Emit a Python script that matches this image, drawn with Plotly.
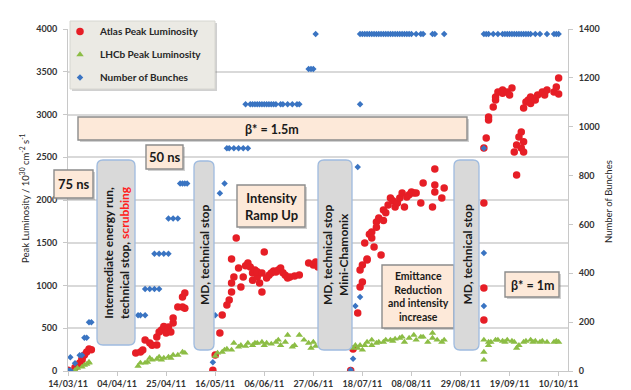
import plotly.graph_objects as go

# ---------------- data ----------------
atlas = [
    ("2011-03-14", 10), ("2011-03-17", 40), ("2011-03-18", 60), ("2011-03-19", 94), ("2011-03-20", 130),
    ("2011-03-20", 150), ("2011-03-21", 187), ("2011-03-22", 222), ("2011-03-23", 257), ("2011-03-24", 250),
    ("2011-04-12", 210), ("2011-04-14", 222), ("2011-04-15", 246), ("2011-04-16", 363), ("2011-04-18", 327),
    ("2011-04-19", 300), ("2011-04-21", 304), ("2011-04-21", 398), ("2011-04-22", 456), ("2011-04-23", 480),
    ("2011-04-24", 520), ("2011-04-25", 444), ("2011-04-26", 515), ("2011-04-27", 456), ("2011-04-28", 561),
    ("2011-04-28", 620), ("2011-04-30", 748), ("2011-05-02", 748), ("2011-05-03", 735), ("2011-05-02", 865),
    ("2011-05-03", 912),
    ("2011-05-15", 10), ("2011-05-16", 187), ("2011-05-18", 444), ("2011-05-19", 655), ("2011-05-21", 772),
    ("2011-05-22", 830), ("2011-05-23", 924), ("2011-05-23", 1030), ("2011-05-24", 1100), ("2011-05-23", 1310),
    ("2011-05-25", 1555), ("2011-05-26", 1205), ("2011-05-27", 982), ("2011-05-28", 1100), ("2011-05-29", 1230),
    ("2011-05-30", 1263), ("2011-05-31", 1216), ("2011-06-01", 1146), ("2011-06-01", 1060), ("2011-06-02", 1181),
    ("2011-06-03", 1100), ("2011-06-03", 1160), ("2011-06-04", 1030), ("2011-06-05", 924), ("2011-06-05", 1146),
    ("2011-06-06", 1392), ("2011-06-07", 1088), ("2011-06-08", 1120), ("2011-06-09", 1146), ("2011-06-10", 1170),
    ("2011-06-11", 1158), ("2011-06-12", 1181), ("2011-06-13", 1205), ("2011-06-14", 1150), ("2011-06-15", 1120),
    ("2011-06-16", 1088), ("2011-06-17", 1100), ("2011-06-19", 1110), ("2011-06-21", 1123), ("2011-06-25", 1263),
    ("2011-06-27", 1240), ("2011-06-28", 1275), ("2011-06-29", 1216),
    ("2011-07-13", 5), ("2011-07-14", 257), ("2011-07-16", 678), ("2011-07-17", 982), ("2011-07-18", 1041),
    ("2011-07-17", 1181), ("2011-07-18", 1240), ("2011-07-19", 1497), ("2011-07-20", 1298), ("2011-07-20", 1310),
    ("2011-07-21", 1600), ("2011-07-22", 1626), ("2011-07-22", 1555), ("2011-07-23", 1450), ("2011-07-24", 1742),
    ("2011-07-24", 1680), ("2011-07-25", 1790), ("2011-07-26", 1357), ("2011-07-27", 1760), ("2011-07-27", 1883),
    ("2011-07-28", 1850), ("2011-07-29", 1942), ("2011-07-30", 2023), ("2011-07-31", 1990), ("2011-08-01", 1918),
    ("2011-08-02", 1965), ("2011-08-03", 2023), ("2011-08-04", 2082), ("2011-08-05", 1918), ("2011-08-06", 2035),
    ("2011-08-07", 2060), ("2011-08-08", 2093), ("2011-08-09", 2082), ("2011-08-10", 2082), ("2011-08-12", 1965),
    ("2011-08-13", 2199), ("2011-08-17", 1918), ("2011-08-18", 2093), ("2011-08-18", 2175), ("2011-08-18", 2363),
    ("2011-08-21", 2023), ("2011-08-22", 2140),
    ("2011-09-08", 597), ("2011-09-08", 971), ("2011-09-08", 1965), ("2011-09-08", 2608), ("2011-09-09", 2725),
    ("2011-09-10", 2936), ("2011-09-10", 2971), ("2011-09-12", 3088), ("2011-09-13", 3170), ("2011-09-13", 3205),
    ("2011-09-14", 3263), ("2011-09-16", 3287), ("2011-09-16", 3250), ("2011-09-18", 3263), ("2011-09-19", 3228),
    ("2011-09-20", 3310), ("2011-09-21", 2561), ("2011-09-22", 2643), ("2011-09-22", 2292), ("2011-09-23", 2737),
    ("2011-09-24", 2795), ("2011-09-24", 2608), ("2011-09-25", 2680), ("2011-09-25", 2561), ("2011-09-25", 3076),
    ("2011-09-26", 3146), ("2011-09-27", 3170), ("2011-09-28", 3205), ("2011-09-28", 3130), ("2011-09-30", 3170),
    ("2011-10-01", 3228), ("2011-10-03", 3263), ("2011-10-04", 3228), ("2011-10-05", 3287), ("2011-10-08", 3263),
    ("2011-10-09", 3322), ("2011-10-10", 3427), ("2011-10-10", 3240),
]

lhcb = [
    ("2011-03-14", 0), ("2011-03-17", 10), ("2011-03-18", 35), ("2011-03-20", 47), ("2011-03-21", 70),
    ("2011-03-22", 80), ("2011-03-23", 94), ("2011-03-23", 105),
    ("2011-04-13", 58), ("2011-04-14", 94), ("2011-04-16", 94), ("2011-04-17", 105), ("2011-04-18", 152),
    ("2011-04-19", 129), ("2011-04-21", 140), ("2011-04-22", 164), ("2011-04-23", 129), ("2011-04-24", 152),
    ("2011-04-26", 164), ("2011-04-27", 152), ("2011-04-28", 187), ("2011-04-30", 187), ("2011-05-02", 222),
    ("2011-05-03", 211),
    ("2011-05-16", 175), ("2011-05-17", 211), ("2011-05-19", 222), ("2011-05-20", 246), ("2011-05-21", 257),
    ("2011-05-23", 246), ("2011-05-24", 327), ("2011-05-26", 281), ("2011-05-27", 300), ("2011-05-29", 290),
    ("2011-05-30", 327), ("2011-06-01", 300), ("2011-06-02", 327), ("2011-06-03", 327), ("2011-06-05", 339),
    ("2011-06-06", 300), ("2011-06-07", 327), ("2011-06-09", 316), ("2011-06-11", 339), ("2011-06-12", 363),
    ("2011-06-13", 300), ("2011-06-15", 339), ("2011-06-16", 421), ("2011-06-18", 281), ("2011-06-19", 300),
    ("2011-06-21", 421), ("2011-06-23", 363), ("2011-06-25", 327), ("2011-06-26", 269), ("2011-06-27", 339),
    ("2011-06-28", 290),
    ("2011-07-14", 269), ("2011-07-15", 300), ("2011-07-16", 269), ("2011-07-17", 300), ("2011-07-18", 246),
    ("2011-07-19", 300), ("2011-07-20", 339), ("2011-07-22", 363), ("2011-07-22", 300), ("2011-07-24", 327),
    ("2011-07-25", 339), ("2011-07-27", 339), ("2011-07-28", 363), ("2011-07-30", 363), ("2011-07-31", 350),
    ("2011-08-01", 375), ("2011-08-03", 386), ("2011-08-04", 398), ("2011-08-05", 339), ("2011-08-07", 386),
    ("2011-08-09", 421), ("2011-08-10", 363), ("2011-08-12", 398), ("2011-08-13", 398), ("2011-08-15", 339),
    ("2011-08-17", 386), ("2011-08-17", 444), ("2011-08-19", 363), ("2011-08-21", 339), ("2011-08-22", 363),
    ("2011-09-08", 129), ("2011-09-08", 222), ("2011-09-08", 363), ("2011-09-10", 339), ("2011-09-10", 300),
    ("2011-09-11", 339), ("2011-09-13", 363), ("2011-09-14", 363), ("2011-09-16", 350), ("2011-09-17", 339),
    ("2011-09-18", 363), ("2011-09-20", 350), ("2011-09-21", 339), ("2011-09-22", 269), ("2011-09-23", 300),
    ("2011-09-25", 339), ("2011-09-26", 350), ("2011-09-28", 363), ("2011-09-29", 339), ("2011-09-30", 350),
    ("2011-10-02", 339), ("2011-10-03", 350), ("2011-10-05", 339), ("2011-10-08", 339), ("2011-10-09", 350),
    ("2011-10-10", 339),
]

bunches = [
    ("2011-03-14", 2), ("2011-03-15", 2), ("2011-03-15", 56), ("2011-03-17", 32), ("2011-03-19", 64),
    ("2011-03-20", 64), ("2011-03-21", 136), ("2011-03-22", 136), ("2011-03-23", 200), ("2011-03-24", 200),
    ("2011-04-13", 228), ("2011-04-14", 228), ("2011-04-16", 228),
    ("2011-04-16", 336), ("2011-04-18", 336), ("2011-04-20", 336), ("2011-04-22", 336),
    ("2011-04-20", 480), ("2011-04-22", 480), ("2011-04-24", 480), ("2011-04-26", 480),
    ("2011-04-26", 624), ("2011-04-28", 624), ("2011-04-30", 624),
    ("2011-05-01", 768), ("2011-05-02", 768), ("2011-05-03", 768), ("2011-05-04", 768),
    ("2011-05-15", 36), ("2011-05-16", 228), ("2011-05-18", 728), ("2011-05-20", 768),
    ("2011-05-21", 912), ("2011-05-22", 912), ("2011-05-24", 912), ("2011-05-26", 912), ("2011-05-28", 912),
    ("2011-05-30", 912),
    ("2011-05-29", 1092), ("2011-05-31", 1092), ("2011-06-01", 1092), ("2011-06-02", 1092), ("2011-06-03", 1092),
    ("2011-06-04", 1092), ("2011-06-05", 1092), ("2011-06-06", 1092), ("2011-06-07", 1092), ("2011-06-08", 1092),
    ("2011-06-09", 1092), ("2011-06-10", 1092), ("2011-06-11", 1092), ("2011-06-13", 1092), ("2011-06-14", 1092),
    ("2011-06-16", 1092), ("2011-06-18", 1092), ("2011-06-20", 1092), ("2011-06-21", 1092),
    ("2011-06-25", 1236), ("2011-06-26", 1236), ("2011-06-27", 1236), ("2011-06-28", 1380),
    ("2011-07-13", 4), ("2011-07-14", 50), ("2011-07-15", 266), ("2011-07-17", 303), ("2011-07-16", 835),
    ("2011-07-17", 1092),
    ("2011-07-17", 1380), ("2011-07-18", 1380), ("2011-07-19", 1380), ("2011-07-20", 1380), ("2011-07-21", 1380),
    ("2011-07-22", 1380), ("2011-07-23", 1380), ("2011-07-24", 1380), ("2011-07-25", 1380), ("2011-07-26", 1380),
    ("2011-07-27", 1380), ("2011-07-28", 1380), ("2011-07-29", 1380), ("2011-07-30", 1380), ("2011-07-31", 1380),
    ("2011-08-01", 1380), ("2011-08-02", 1380), ("2011-08-03", 1380), ("2011-08-04", 1380), ("2011-08-05", 1380),
    ("2011-08-06", 1380), ("2011-08-07", 1380), ("2011-08-08", 1380), ("2011-08-10", 1380), ("2011-08-12", 1380),
    ("2011-08-13", 1380), ("2011-08-17", 1380), ("2011-08-18", 1380), ("2011-08-22", 1380),
    ("2011-09-08", 266), ("2011-09-08", 483), ("2011-09-08", 912),
    ("2011-09-08", 1380), ("2011-09-09", 1380), ("2011-09-10", 1380), ("2011-09-12", 1380), ("2011-09-14", 1380),
    ("2011-09-16", 1380), ("2011-09-17", 1380), ("2011-09-18", 1380), ("2011-09-19", 1380), ("2011-09-20", 1380),
    ("2011-09-21", 1380), ("2011-09-22", 1380), ("2011-09-23", 1380), ("2011-09-24", 1380), ("2011-09-25", 1380),
    ("2011-09-26", 1380), ("2011-09-27", 1380), ("2011-09-28", 1380), ("2011-09-30", 1380), ("2011-10-02", 1380),
    ("2011-10-05", 1380), ("2011-10-08", 1380), ("2011-10-09", 1380), ("2011-10-10", 1380),
]

# ---------------- figure ----------------
W, H = 631, 390
L, R, T, B = 68, 568, 29, 371
FONT = "Lato"
TXT = "#1a1a1a"


def X(p):
    return (p - L) / (R - L)


def Y(p):
    return (B - p) / (B - T)


fig = go.Figure()
fig.add_trace(go.Scatter(
    x=[d for d, _ in atlas], y=[v for _, v in atlas], mode="markers",
    name="Atlas Peak Luminosity", legendgroup="a",
    marker=dict(symbol="circle", size=7.5, color="#e61e26"),
))
fig.add_trace(go.Scatter(
    x=[d for d, _ in lhcb], y=[v for _, v in lhcb], mode="markers",
    name="LHCb Peak Luminosity", legendgroup="b",
    marker=dict(symbol="triangle-up", size=6.5, color="#8cbd45"),
))
fig.add_trace(go.Scatter(
    x=[d for d, _ in bunches], y=[v for _, v in bunches], mode="markers",
    name="Number of Bunches", legendgroup="c", yaxis="y2",
    marker=dict(symbol="diamond", size=5, color="#3a74c2"),
))

shapes = []
annos = []


def shadow_rect(x0, y0, x1, y1, fill="#fde9d9", line="#8c8c8c", lw=1.4, shadow=True):
    if shadow:
        shapes.append(dict(type="rect", xref="paper", yref="paper",
                           x0=X(x0 + 2), x1=X(x1 + 2), y0=Y(y1 + 2), y1=Y(y0 + 2),
                           fillcolor="rgba(120,120,120,0.35)", line=dict(width=0), layer="above"))
    shapes.append(dict(type="rect", xref="paper", yref="paper",
                       x0=X(x0), x1=X(x1), y0=Y(y1), y1=Y(y0),
                       fillcolor=fill, line=dict(color=line, width=lw), layer="above"))


def round_rect(x0, y0, x1, y1, r=6):
    p = (f"M {X(x0 + r)},{Y(y0)} L {X(x1 - r)},{Y(y0)} Q {X(x1)},{Y(y0)} {X(x1)},{Y(y0 + r)} "
         f"L {X(x1)},{Y(y1 - r)} Q {X(x1)},{Y(y1)} {X(x1 - r)},{Y(y1)} "
         f"L {X(x0 + r)},{Y(y1)} Q {X(x0)},{Y(y1)} {X(x0)},{Y(y1 - r)} "
         f"L {X(x0)},{Y(y0 + r)} Q {X(x0)},{Y(y0)} {X(x0 + r)},{Y(y0)} Z")
    shapes.append(dict(type="path", xref="paper", yref="paper", path=p,
                       fillcolor="#d9d9d9", line=dict(color="#9fbbdf", width=1.3), layer="above"))


def text(xc, yc, s, size=12, angle=0):
    annos.append(dict(xref="paper", yref="paper", x=X(xc), y=Y(yc), text=s, showarrow=False,
                      textangle=angle, xanchor="center", yanchor="middle", align="center",
                      font=dict(family=FONT, size=size, color=TXT, weight="bold")))


# legend background
shadow_rect(70, 21, 215, 89, fill="#ebeae4", line="#d6d6d0", lw=1)

# peach labels
shadow_rect(78, 117, 467, 140)
text(272, 129, "β* = 1.5m", 12.5)
shadow_rect(54, 170, 93, 198)
text(73.5, 184, "75 ns", 13)
shadow_rect(146, 145, 183, 169)
text(164.5, 157, "50 ns", 13)
shadow_rect(237, 185, 305, 227)
text(271, 206, "Intensity<br>Ramp Up", 13)
shadow_rect(382, 265, 454, 328)
text(418, 296.5, "Emittance<br>Reduction<br>and intensity<br>increase", 10.5)
shadow_rect(505, 272, 559, 297)
text(532, 285, "β* = 1m", 12.5)

# grey stop boxes
round_rect(97, 160, 135, 345)
text(116, 253, "Intermediate energy run,<br>technical stop, <span style='color:#ff2020'>scrubbing</span>", 12, -90)
round_rect(194, 161, 214, 350)
text(204, 255, "MD, technical stop", 12, -90)
round_rect(318, 160, 352, 350)
text(335, 255, "MD, technical stop<br>Mini-Chamonix", 12, -90)
round_rect(454, 160, 479, 350)
text(466.5, 255, "MD, technical stop", 12, -90)

# axis titles
annos.append(dict(xref="paper", yref="paper", x=X(25), y=Y(198), showarrow=False, textangle=-90,
                  xanchor="center", yanchor="middle",
                  text="Peak Luminosity / 10<sup>30</sup> cm<sup>-2</sup> s<sup>-1</sup>",
                  font=dict(family=FONT, size=9.5, color="#262626")))
annos.append(dict(xref="paper", yref="paper", x=X(609), y=Y(202), showarrow=False, textangle=-90,
                  xanchor="center", yanchor="middle", text="Number of Bunches",
                  font=dict(family=FONT, size=9.5, color="#262626")))

tickfont = dict(family=FONT, size=9, color="#333333", weight="bold")
axis_line = "#c8c8c8"

fig.update_layout(
    template="none",
    width=W, height=H,
    margin=dict(l=L, r=W - R, t=T, b=H - B, pad=0, autoexpand=False),
    paper_bgcolor="white", plot_bgcolor="white",
    showlegend=True,
    legend=dict(x=X(60), y=Y(17), xanchor="left", yanchor="top",
                bgcolor="rgba(0,0,0,0)", borderwidth=0,
                traceorder="grouped", tracegroupgap=4,
                font=dict(family=FONT, size=10, color="#262626", weight="bold")),
    xaxis=dict(type="date", range=["2011-03-14", "2011-10-14"],
               tick0="2011-03-14", dtick=21 * 86400000, tickformat="%d/%m/%y",
               ticks="outside", ticklen=4, tickcolor=axis_line,
               showline=True, linecolor=axis_line, linewidth=1,
               showgrid=False, zeroline=False, tickfont=tickfont, automargin=False),
    yaxis=dict(range=[0, 4000], dtick=500, tick0=0,
               ticks="outside", ticklen=4, tickcolor=axis_line,
               showline=True, linecolor=axis_line, linewidth=1,
               showgrid=True, gridcolor="#d9d9d9", gridwidth=1.5,
               zeroline=False, tickfont=tickfont, ticklabelstandoff=4, automargin=False),
    yaxis2=dict(range=[0, 1400], dtick=200, tick0=0, overlaying="y", side="right",
                ticks="outside", ticklen=4, tickcolor=axis_line,
                showline=True, linecolor=axis_line, linewidth=1,
                showgrid=False, zeroline=False, tickfont=tickfont, ticklabelstandoff=4,
                automargin=False),
    shapes=shapes, annotations=annos,
)

fig.write_html("out.html", config={"displayModeBar": False},
               post_script="document.body.style.margin='0px';document.body.style.overflow='hidden';")
